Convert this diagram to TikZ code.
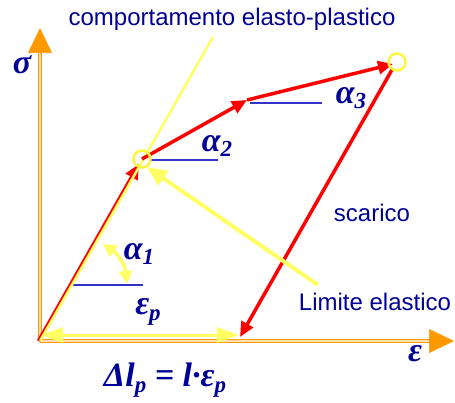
\documentclass[tikz,border=0pt]{standalone}
\usepackage{fontspec}
\setmainfont{Liberation Sans}
\newfontfamily\mfont{Liberation Serif}
\usetikzlibrary{arrows.meta}
\definecolor{navy}{RGB}{0,0,150}
\definecolor{axisor}{RGB}{255,153,0}
\definecolor{lyel}{RGB}{255,255,100}
\definecolor{bl}{RGB}{51,51,204}
\newcommand{\msym}[1]{{\mfont\bfseries\itshape\fontsize{34}{34}\selectfont #1}}
\newcommand{\msub}[1]{\raisebox{-0.35ex}{\fontsize{23}{23}\selectfont #1}}
\begin{document}
\begin{tikzpicture}[x=1pt,y=1pt,
  axisline/.style={draw=axisor, line width=1.7pt, double=axisor!30, double distance=1.2pt},
  axistip/.style={draw=axisor, line width=0.5pt, -{Triangle[length=25pt,width=24pt,fill=axisor]}},
  redarr/.style={draw=red, line width=3.5pt, -{Triangle[length=15pt,width=13pt,fill=red]}},
  yelline/.style={draw=lyel, line width=2.5pt},
  yelarr/.style={draw=lyel, line width=4pt, -{Triangle[length=20pt,width=17pt,fill=lyel]}},
  ycirc/.style={draw=yellow!75!white, line width=2.5pt, circle, minimum size=17pt, inner sep=0pt},
  blueline/.style={draw=bl, line width=2pt},
  lbl/.style={text=navy, font=\fontsize{24}{24}\selectfont, inner sep=0pt},
  mlbl/.style={text=navy, inner sep=0pt}
]
\useasboundingbox (0,0) rectangle (455,402);
% key points
\coordinate (O) at (40,61);
\coordinate (Ybase) at (40,349);
\coordinate (Ytop) at (40,374);
\coordinate (Xbase) at (431,61);
\coordinate (Xtop) at (454,61);
\coordinate (A) at (142,243);
\coordinate (B) at (247,302);
\coordinate (C) at (397,340);
\coordinate (D) at (240,65);
\coordinate (E) at (213,365);
\coordinate (L) at (318,117);
% axes
\draw[axisline] (O) -- (Ybase);
\draw[axistip] ([yshift=-1pt]Ybase) -- (Ytop);
\draw[axisline] (O) -- (Xbase);
\draw[axistip] ([xshift=-1pt]Xbase) -- (Xtop);
% epsilon_p double arrow
\coordinate (P1) at (41,67);
\coordinate (P2) at (239,67);
\draw[draw=lyel, line width=3pt, {Triangle[length=22pt,width=15pt,fill=lyel]}-{Triangle[length=22pt,width=15pt,fill=lyel]}] (P1) -- (P2);
% blue reference lines
\coordinate (b1a) at (72,117); \coordinate (b1b) at (143,117);
\coordinate (b2a) at (150,242); \coordinate (b2b) at (218,242);
\coordinate (b3a) at (250,299); \coordinate (b3b) at (322,299);
\draw[blueline] (b1a) -- (b1b);
\draw[blueline] (b2a) -- (b2b);
\draw[blueline] (b3a) -- (b3b);
% red loading path
\draw[redarr] ([xshift=-1.5pt]O) -- ([xshift=-3pt,yshift=-5pt]A);
\draw[yelline] (O) -- (E);
\draw[redarr] (A) -- (B);
\draw[redarr] (B) -- ([xshift=-4pt,yshift=-2pt]C);
\draw[redarr] ([xshift=-4pt,yshift=-6pt]C) -- (D);
% circles
\node[ycirc] (cA) at (A) {};
\node[ycirc] (cC) at (C) {};
% limite elastico arrow
\draw[yelarr] (L) -- ([xshift=5pt,yshift=-8pt]A);
% alpha1 curved arrow
\coordinate (c1) at (103,158);
\coordinate (c2) at (127,118);
\draw[draw=lyel, line width=3.5pt, {Triangle[length=13pt,width=13pt,fill=lyel]}-{Triangle[length=13pt,width=13pt,fill=lyel]}] (c1) to[bend left=25] (c2);
% labels
\node[lbl] (t1) at (232,383) {comportamento elasto-plastico};
\node[lbl] (t2) at (372,189) {scarico};
\node[lbl] (t3) at (375,100) {Limite elastico};
\node[mlbl] (sig) at (22,337) {\msym{σ}};
\node[mlbl] (a1) at (139,148) {\msym{α\msub{1}}};
\node[mlbl] (a2) at (217,256) {\msym{α\msub{2}}};
\node[mlbl] (a3) at (351,304) {\msym{α\msub{3}}};
\node[mlbl] (ep) at (148,90) {\msym{ε\msub{p}}};
\node[mlbl] (eps) at (415,48) {\msym{ε}};
\node[mlbl] (dl) at (165,22) {\msym{Δl\msub{p} = l·ε\msub{p}}};
\end{tikzpicture}
\end{document}
